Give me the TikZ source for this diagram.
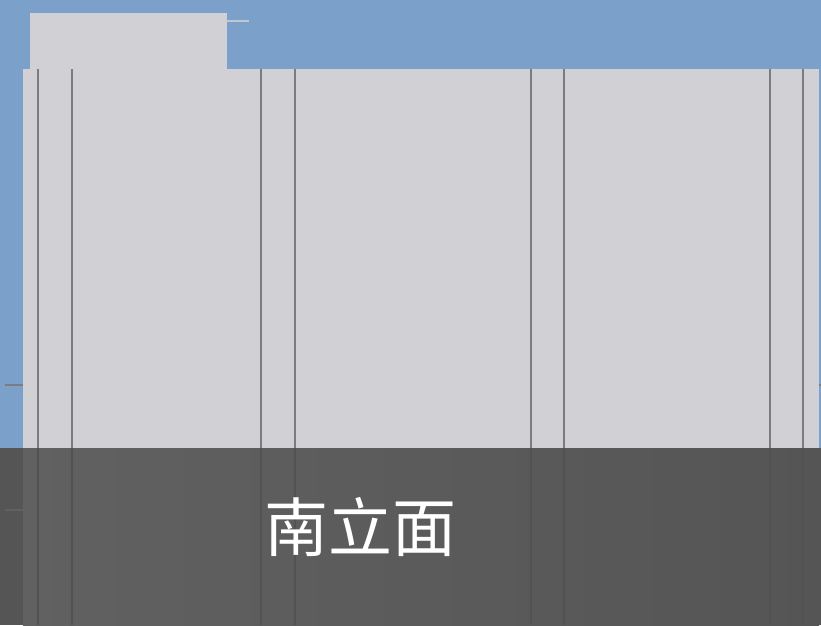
\documentclass[tikz,border=0pt]{standalone}
\usepackage{fontspec}
\newfontfamily\cjk{Noto Sans CJK SC}
\definecolor{sky}{HTML}{7BA1CB}
\definecolor{wallgrey}{HTML}{D1D1D5}
\definecolor{jointgrey}{HTML}{7C7C80}
\definecolor{bandgrey}{HTML}{555555}

\begin{document}
\begin{tikzpicture}[x=1pt,y=-1pt,
    joint/.style={draw=jointgrey, line width=2.4pt},
    title/.style={text=white, inner sep=0pt, font=\fontsize{64}{64}\selectfont\cjk}]
\useasboundingbox (0,0) rectangle (821,625);
\fill[sky] (0,0) rectangle (821,625);
\fill[wallgrey] (30,13) rectangle (227,69);
\fill[wallgrey] (23,69) rectangle (819,625);
\draw[wallgrey!80!sky, line width=1.5pt] (227,21) -- (249,21);
\draw[jointgrey, line width=2pt] (5,385) -- (23,385);
\draw[jointgrey, line width=2pt] (819,385) -- (821,385);
\foreach \x in {38,72,261,295,531,564,770,803}
    \draw[joint] (\x,69) -- (\x,448);
% band across the bottom
\fill[bandgrey] (0,448) rectangle (821,625);
\shade[left color=black!62, right color=bandgrey] (23,448) rectangle (819,625);
\draw[black!62, line width=2pt] (5,510) -- (23,510);
\foreach \x in {38,72,261,295,531,564,770,803}
    \draw[black!68, line width=2.4pt] (\x,448) -- (\x,625);
\node[title] (caption) at (360,527) {南立面};
\end{tikzpicture}
\end{document}
